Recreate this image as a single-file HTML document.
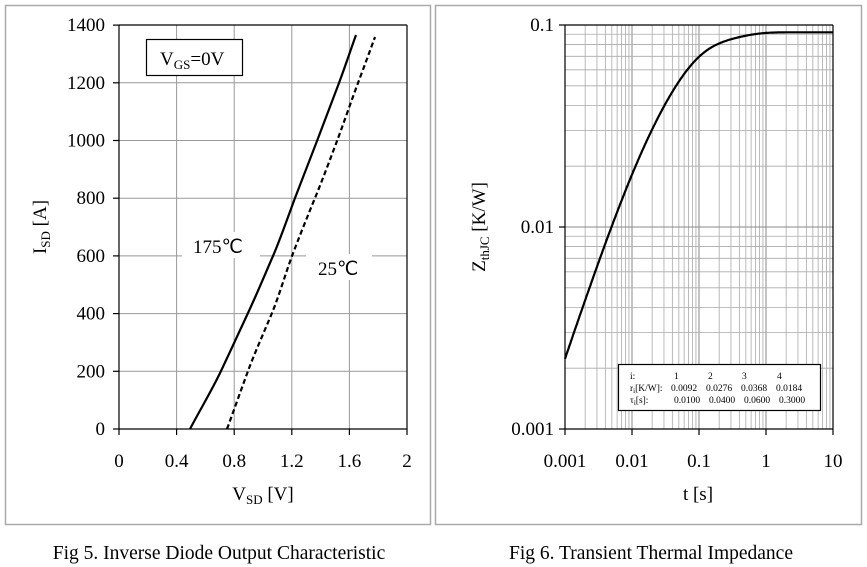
<!DOCTYPE html>
<html><head><meta charset="utf-8"><style>
body{margin:0;background:#fff;}
svg{display:block;font-family:"Liberation Serif",serif;}
</style></head><body>
<svg id="s" width="867" height="567" xmlns="http://www.w3.org/2000/svg">
<rect x="5.5" y="5.5" width="425" height="519" fill="#fff" stroke="#aaa" stroke-width="1.5"/>
<rect x="435.5" y="5.5" width="426" height="519" fill="#fff" stroke="#aaa" stroke-width="1.5"/>
<g id="L" stroke="#999" stroke-width="1"></g>
<g id="R" stroke="#aaa" stroke-width="0.8"></g>
<g font-size="19" fill="#000" id="T"></g>
<text x="219" y="559" font-size="19.5" text-anchor="middle">Fig 5. Inverse Diode Output Characteristic</text>
<text x="651" y="559" font-size="19.5" text-anchor="middle">Fig 6. Transient Thermal Impedance</text>
<rect x="146.5" y="39.5" width="96" height="36" fill="#fff" stroke="#000" stroke-width="1.2"/>
<text x="160" y="65" font-size="19">V<tspan font-size="13" dy="4">GS</tspan><tspan dy="-4">=0V</tspan></text>
<rect x="182" y="232" width="78" height="26" fill="#fff"/>
<rect x="306" y="254" width="66" height="26" fill="#fff"/>
<text x="193" y="253" font-size="19">175℃</text>
<text x="318" y="275" font-size="19">25℃</text>
<text x="263" y="500" font-size="19" text-anchor="middle">V<tspan font-size="13" dy="4">SD</tspan><tspan dy="-4">  [V]</tspan></text>
<text transform="translate(46,227) rotate(-90)" font-size="19" text-anchor="middle">I<tspan font-size="13" dy="4">SD</tspan><tspan dy="-4"> [A]</tspan></text>
<text x="698" y="500" font-size="19" text-anchor="middle">t [s]</text>
<text transform="translate(485,227) rotate(-90)" font-size="19" text-anchor="middle">Z<tspan font-size="13" dy="4">thJC</tspan><tspan dy="-4"> [K/W]</tspan></text>
<path d="M190,429 C200,410 212,390 221,371 S240,330 248,313 S266,272 273,256 S289,214 295,198 S311,157 317,141 S333,99 339,83 S352,46 356,35" fill="none" stroke="#000" stroke-width="2.2" stroke-linejoin="round"/>
<path d="M227,429 C234,410 241,390 248,371 S265,330 272,313 S286,272 292,256 S308,215 315,198 S331,157 337,141 S352,99 358,83 S371,48 375,37" fill="none" stroke="#000" stroke-width="2.2" stroke-dasharray="5,3"/>
<path id="Z" fill="none" stroke="#000" stroke-width="2.2"/>
<rect x="618.5" y="364.5" width="202" height="46" fill="#fff" stroke="#000" stroke-width="1.2"/>
<g font-size="9.5">
<text x="630" y="379">i:</text><text x="674" y="379">1</text><text x="708" y="379">2</text><text x="742" y="379">3</text><text x="777" y="379">4</text>
<text x="630" y="391">r<tspan font-size="7" dy="2">i</tspan><tspan dy="-2">[K/W]:</tspan></text><text x="671" y="391">0.0092</text><text x="706" y="391">0.0276</text><text x="741" y="391">0.0368</text><text x="776" y="391">0.0184</text>
<text x="630" y="403">τ<tspan font-size="7" dy="2">i</tspan><tspan dy="-2">[s]:</tspan></text><text x="674" y="403">0.0100</text><text x="709" y="403">0.0400</text><text x="744" y="403">0.0600</text><text x="779" y="403">0.3000</text>
</g>
</svg>
<script>
var NS="http://www.w3.org/2000/svg";
function ln(g,x1,y1,x2,y2,c,w){var l=document.createElementNS(NS,"line");l.setAttribute("x1",x1);l.setAttribute("y1",y1);l.setAttribute("x2",x2);l.setAttribute("y2",y2);if(c)l.setAttribute("stroke",c);if(w)l.setAttribute("stroke-width",w);document.getElementById(g).appendChild(l);}
function tx(x,y,s,a){var t=document.createElementNS(NS,"text");t.setAttribute("x",x);t.setAttribute("y",y);t.setAttribute("text-anchor",a);t.textContent=s;document.getElementById("T").appendChild(t);}
for(var i=1;i<5;i++){var x=119+i*57.6;ln("L",x,25,x,429);}
for(var i=1;i<7;i++){var y=429-i*57.7;ln("L",119,y,407,y);}
ln("L",119,25,407,25,"#000",1.2);ln("L",407,25,407,429,"#000",1.2);
ln("L",119,25,119,429,"#000",1.2);ln("L",119,429,407,429,"#000",1.2);
for(var i=0;i<=5;i++){var x=119+i*57.6;ln("L",x,429,x,435,"#000",1.2);tx(x,467,["0","0.4","0.8","1.2","1.6","2"][i],"middle");}
for(var i=0;i<=7;i++){var y=429-i*57.7;ln("L",113,y,119,y,"#000",1.2);tx(105,y+6,String(i*200),"end");}
for(var d=0;d<4;d++)for(var k=2;k<10;k++){var x=565+67*(d+Math.log10(k));ln("R",x,25,x,429);}
for(var d=1;d<4;d++){ln("R",565+67*d,25,565+67*d,429,"#888",1);}
for(var d=0;d<2;d++)for(var k=2;k<10;k++){var y=429-202*(d+Math.log10(k));ln("R",565,y,833,y);}
ln("R",565,227,833,227,"#888",1);
ln("R",565,25,833,25,"#000",1.2);ln("R",833,25,833,429,"#000",1.2);
ln("R",565,25,565,429,"#000",1.2);ln("R",565,429,833,429,"#000",1.2);
var xl=["0.001","0.01","0.1","1","10"];
for(var d=0;d<=4;d++){var x=565+67*d;ln("R",x,429,x,435,"#000",1.2);tx(x,467,xl[d],"middle");}
var yl=["0.001","0.01","0.1"];
for(var d=0;d<=2;d++){var y=429-202*d;ln("R",559,y,565,y,"#000",1.2);tx(554,y+6,yl[d],"end");}
var r=[0.0092,0.0276,0.0368,0.0184],ta=[0.01,0.04,0.06,0.3],p="";
for(var j=0;j<=400;j++){var lt=-3+4*j/400,t=Math.pow(10,lt),z=0;for(var i=0;i<4;i++)z+=r[i]*(1-Math.exp(-t/ta[i]));
var x=565+67*(lt+3),y=429-202*(Math.log10(z)+3);p+=(j?"L":"M")+x.toFixed(1)+","+y.toFixed(1);}
document.getElementById("Z").setAttribute("d",p);
</script>
</body></html>
